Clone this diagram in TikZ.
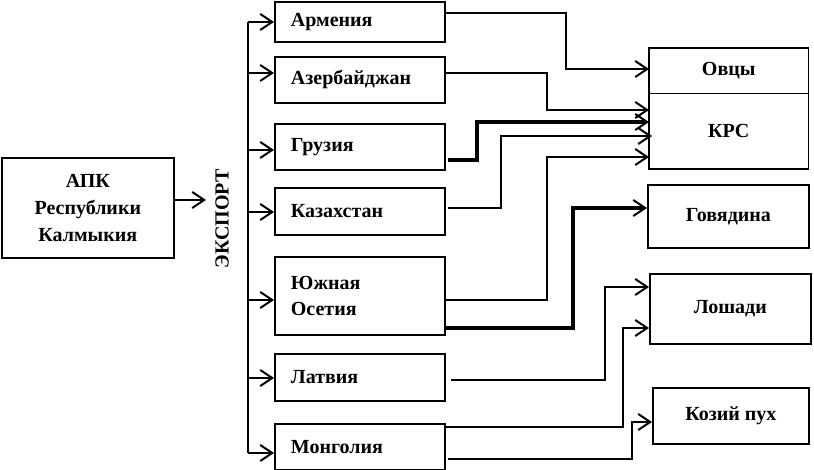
\documentclass[tikz,border=0pt]{standalone}
\usepackage{fontspec}
\setmainfont{Liberation Serif}
\usetikzlibrary{arrows.meta}
\begin{document}
\begin{tikzpicture}[x=1pt,y=-1pt,
  box/.style={draw,line width=1.8pt,inner sep=0pt,anchor=north west},
  cbox/.style={box,align=left,text width=138pt,inner xsep=16pt,minimum width=170pt},
  rbox/.style={box,align=center},
  ln/.style={line width=2.2pt},
  thk/.style={line width=3.4pt},
  arr/.style={-{Straight Barb[length=12pt,width=16pt,line width=2pt]}},
  font=\fontsize{20}{27}\selectfont\bfseries]
\useasboundingbox (0,0) rectangle (814,470);
% left box
\node[box,align=center,minimum width=172pt,minimum height=100pt] (apk) at (0.9,157) {АПК\\Республики\\Калмыкия};
\coordinate (expin) at (206,200);
\draw[ln,arr] (apk.east |- expin) -- (expin);
\node[rotate=90] (exp) at (222,219) {ЭКСПОРТ};
% country boxes
\node[cbox,minimum height=40pt] (arm) at (274,1) {Армения};
\node[cbox,minimum height=46pt] (az) at (274,56) {Азербайджан};
\node[cbox,minimum height=46pt] (gr) at (274,123) {Грузия};
\node[cbox,minimum height=47pt] (kz) at (274,187) {Казахстан};
\node[cbox,minimum height=78pt] (os) at (274,256) {Южная\\[-1pt]Осетия};
\node[cbox,minimum height=47pt] (lat) at (274,353) {Латвия};
\node[cbox,minimum height=46pt] (mon) at (274,423) {Монголия};
% bus
\coordinate (b1) at (248,22);
\coordinate (b2) at (248,73);
\coordinate (b3) at (248,150);
\coordinate (b4) at (248,212);
\coordinate (b5) at (248,300);
\coordinate (b6) at (248,378);
\coordinate (b7) at (248,453);
\draw[ln] (b1) -- (b7);
\draw[ln,arr] (b1) -- (arm.west |- b1);
\draw[ln,arr] (b2) -- (az.west |- b2);
\draw[ln,arr] (b3) -- (gr.west |- b3);
\draw[ln,arr] (b4) -- (kz.west |- b4);
\draw[ln,arr] (b5) -- (os.west |- b5);
\draw[ln,arr] (b6) -- (lat.west |- b6);
\draw[ln,arr] (b7) -- (mon.west |- b7);
% product boxes
\node[inner sep=0pt,anchor=north west,minimum width=159pt,minimum height=45pt] (ovcy) at (649,48) {Овцы};
\node[inner sep=0pt,anchor=north west,minimum width=159pt,minimum height=76pt] (krs) at (649,93) {КРС};
\draw[line width=1.8pt] (ovcy.north west) rectangle (krs.south east);
\draw[line width=0.9pt] (ovcy.south west) -- (ovcy.south east);
\node[rbox,minimum width=161pt,minimum height=63pt] (gov) at (647,184) {Говядина};
\node[rbox,minimum width=161pt,minimum height=70pt] (losh) at (649,273) {Лошади};
\node[rbox,minimum width=156pt,minimum height=56pt] (koz) at (652,387) {Козий пух};
% connectors
\draw[ln,arr] (arm.east |- 0,13) -| (566,69) -- (ovcy.west |- 0,69);
\draw[ln,arr] (az.east |- 0,73) -| (547,110) -- (krs.west |- 0,110);
\draw[thk,arr] ([xshift=2pt]gr.east |- 0,160) -| (477,122) -- (krs.west |- 0,122);
\draw[ln,arr] ([xshift=2pt]kz.east |- 0,208) -| (501,136) -- ([xshift=3pt]krs.west |- 0,136);
\draw[ln,arr] (os.east |- 0,300) -| (547,157) -- (krs.west |- 0,157);
\draw[thk,arr] (os.east |- 0,328) -| (573,208) -- (gov.west |- 0,208);
\draw[ln,arr] ([xshift=5pt]lat.east |- 0,380) -| (605,287) -- (losh.west |- 0,287);
\draw[ln,arr] (mon.east |- 0,427) -| (623,328) -- (losh.west |- 0,328);
\draw[ln,arr] ([xshift=2pt]mon.east |- 0,459) -| (632,422) -- (koz.west |- 0,422);
\end{tikzpicture}
\end{document}
